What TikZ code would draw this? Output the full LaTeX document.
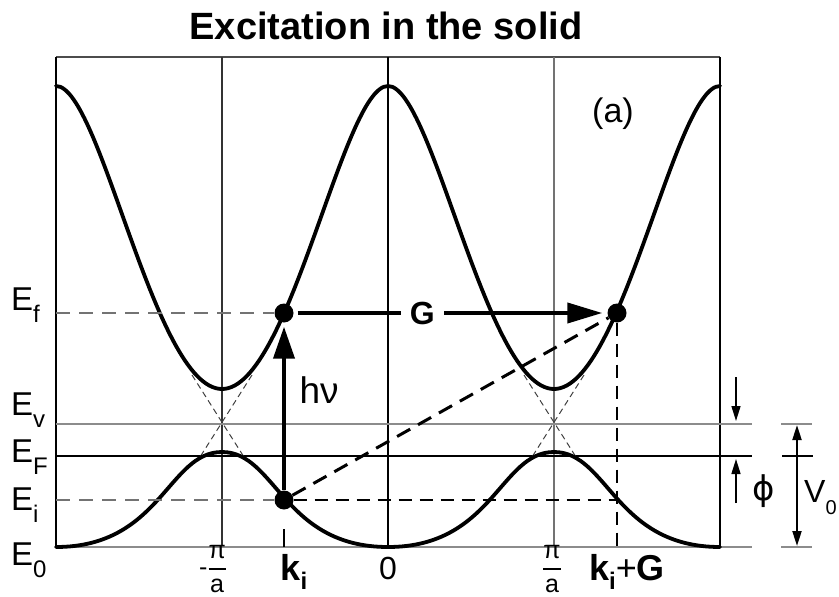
\documentclass[tikz,border=0pt]{standalone}
\usepackage{amsmath}
\usepackage{fontspec}
\setmainfont{Liberation Sans}
\newfontfamily\symbolfont{DejaVu Sans}
\usetikzlibrary{arrows.meta}

\newcommand{\fs}[1]{\fontsize{#1}{#1}\selectfont}
\newcommand{\lowsub}[2][24]{\raisebox{-12pt}{\fs{#1}#2}}
\newcommand{\ksub}[1]{\raisebox{-9pt}{\fs{24}\bfseries #1}}
\newcommand{\pifrac}{$\genfrac{}{}{1.3pt}{0}{\mbox{π}}{\mbox{a}}$}

\begin{document}
\begin{tikzpicture}[
  x=1pt, y=-1pt,
  band/.style={line width=3.8pt, line cap=round},
  free/.style={line width=1pt, dash pattern=on 6pt off 4pt, black!75},
  level/.style={line width=1.8pt, black!45},
  zone/.style={line width=1.4pt, black!80},
  dot/.style={circle, fill=black, inner sep=0pt, minimum size=19pt},
  greydash/.style={line width=2pt, black!55, dash pattern=on 14pt off 9pt},
  blackdash/.style={line width=2.6pt, dash pattern=on 13pt off 8pt},
  photon/.style={line width=4pt},
  small arrow/.style={line width=1.5pt, -{Triangle[length=15pt,width=9pt]}},
  lbl/.style={anchor=base west, font=\fs{33}, inner sep=0pt},
]
\useasboundingbox (0,0) rectangle (839,597);

% title
\node[anchor=base, font=\fs{38}\bfseries] (title) at (386,39) {Excitation in the solid};

% frame and zone lines
\draw[line width=1.6pt, black!70] (56,57) -- (720,57);
\draw[zone, black] (56,57) -- (56,547);
\draw[zone, black] (720,57) -- (720,547);
\draw[zone] (222,57) -- (222,547);
\draw[zone, black] (388,57) -- (388,547);
\draw[zone, black!55] (554,57) -- (554,547);

% energy levels
\draw[level] (56,424) -- (752,424);
\draw[line width=1.2pt] (56,456) -- (752,456);
\draw[level] (56,547) -- (752,547);
\draw[level] (781,424) -- (812,424);
\draw[line width=1.2pt] (782,456) -- (813,456);
\draw[level] (781,547) -- (812,547);

% free electron parabolas at the zone boundaries
\foreach \xb in {222,554} {
  \draw[free] (\xb-30,375) -- (\xb+22,457);
  \draw[free] (\xb+30,375) -- (\xb-22,457);
}

% bands
\draw[band] (56,547) .. controls (161,547) and (168,452) .. (222,452)
  .. controls (276,452) and (283,547) .. (388,547)
  .. controls (493,547) and (500,452) .. (554,452)
  .. controls (608,452) and (615,547) .. (720,547);
\draw[band] (56,86) .. controls (101,86) and (154,389) .. (222,389)
  .. controls (290,389) and (343,86) .. (388,86)
  .. controls (433,86) and (486,389) .. (554,389)
  .. controls (622,389) and (675,86) .. (720,86);

% states
\node[dot] (ki) at (284,500) {};
\node[dot] (kf) at (284,313) {};
\node[dot] (kg) at (617,313) {};
\coordinate (efleft) at (56,313);
\coordinate (eileft) at (56,500);
\coordinate (eiright) at (617,500);
\coordinate (kgaxis) at (617,547);
\coordinate (kiaxis) at (284,547);

\draw[greydash] (efleft) -- (kf);
\draw[greydash] (eileft) -- (ki);
\draw[blackdash] (ki) -- (eiright);
\draw[blackdash] (kg) -- (kgaxis);
\draw[line width=3pt, dash pattern=on 15pt off 9pt] (ki) -- (kg);
\draw[line width=2pt] (kiaxis) -- ++(0,-18);

\draw[photon, -{Triangle[length=32pt,width=21pt]}, shorten >=4pt] (ki) -- (kf);
\draw[photon, -{Triangle[length=35pt,width=20pt]}, shorten <=4pt, shorten >=5pt] (kf) --
  node[pos=0.41, fill=white, font=\fs{32}\bfseries, inner xsep=9pt, inner ysep=2pt] (glbl) {G} (kg);
\node[anchor=base west, font=\fs{37}] (hnu) at (296,403) {hν};

% work function and inner potential
\coordinate (vtop) at (736,377);
\coordinate (vbot) at (736,421);
\coordinate (phibot) at (736,503);
\coordinate (phitop) at (736,459);
\coordinate (vzerotop) at (797,425);
\coordinate (vzerobot) at (797,546);
\draw[small arrow] (vtop) -- (vbot);
\draw[small arrow] (phibot) -- (phitop);
\draw[small arrow, {Triangle[length=15pt,width=9pt]}-{Triangle[length=15pt,width=9pt]}, line width=2pt] (vzerotop) -- (vzerobot);
\node[font=\fs{34}\symbolfont] (phi) at (764,491) {ϕ};
\node[anchor=base west, font=\fs{32}, inner sep=0pt] (vzero) at (804,502) {V\lowsub[20]{0}};

% energy labels
\node[lbl] (lef) at (11,310) {E\lowsub{f}};
\node[lbl] (lev) at (11,415) {E\lowsub{v}};
\node[lbl] (leF) at (11,462) {E\lowsub{F}};
\node[lbl] (lei) at (11,510) {E\lowsub{i}};
\node[lbl] (le0) at (11,565) {E\lowsub{0}};

% momentum labels
\node[font=\fs{25}, inner sep=0pt] (mpi) at (213,569) {-\pifrac};
\node[font=\fs{25}, inner sep=0pt] (ppi) at (552,569) {\pifrac};
\node[anchor=base, font=\fs{32}] (zero) at (388,579) {0};
\node[anchor=base, font=\fs{36}, inner sep=0pt] (kilbl) at (294,580) {\textbf{k}\ksub{i}};
\node[anchor=base, font=\fs{36}, inner sep=0pt] (kglbl) at (627,580) {\textbf{k}\ksub{i}+\textbf{G}};

\node[anchor=base, font=\fs{34}] (panel) at (613,122) {(a)};
\end{tikzpicture}
\end{document}
